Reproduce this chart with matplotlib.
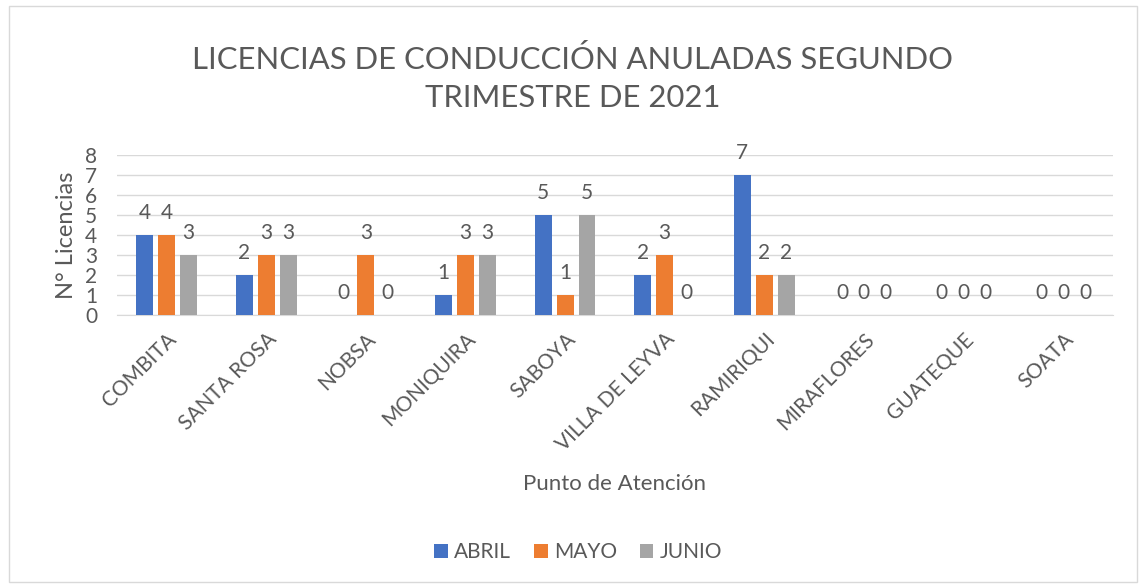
import numpy as np
import matplotlib.pyplot as plt
from matplotlib.patches import Rectangle

categories = ["COMBITA", "SANTA ROSA", "NOBSA", "MONIQUIRA", "SABOYA",
              "VILLA DE LEYVA", "RAMIRIQUI", "MIRAFLORES", "GUATEQUE", "SOATA"]
abril = [4, 2, 0, 1, 5, 2, 7, 0, 0, 0]
mayo = [4, 3, 3, 3, 1, 3, 2, 0, 0, 0]
junio = [3, 3, 0, 3, 5, 0, 2, 0, 0, 0]
series_names = ["ABRIL", "MAYO", "JUNIO"]
colors = ["#4472C4", "#ED7D31", "#A5A5A5"]
text_color = "#595959"

plt.rcParams['font.family'] = ['Lato', 'DejaVu Sans']

fig = plt.figure(figsize=(11.45, 5.88), dpi=100)
ax = fig.add_axes([0.102, 0.464, 0.870, 0.272])

x = np.arange(len(categories))
width = 0.17
step = 0.22
for i, (name, vals) in enumerate(zip(series_names, [abril, mayo, junio])):
    pos = x + (i - 1) * step
    ax.bar(pos, vals, width, color=colors[i], label=name, zorder=3)
    for px, v in zip(pos, vals):
        ax.annotate(str(v), (px, v), xytext=(0, 12), textcoords="offset points",
                    ha="center", va="baseline", fontsize=15, color=text_color)

ax.set_xlim(-0.5, len(categories) - 0.5)
ax.set_ylim(0, 8)
ax.set_yticks(range(0, 9))
ax.yaxis.grid(True, color="#D9D9D9", linewidth=1, zorder=0)
ax.tick_params(axis="both", length=0, labelsize=15, colors=text_color)
ax.tick_params(axis="y", pad=14)
ax.set_xticks(x)
ax.set_xticklabels(categories, rotation=45, ha="right", rotation_mode="anchor")
ax.tick_params(axis="x", pad=10)
for s in ["top", "right", "left"]:
    ax.spines[s].set_visible(False)
ax.spines["bottom"].set_color("#D9D9D9")

ax.set_ylabel("N° Licencias", fontsize=17, color=text_color, labelpad=6)
ax.set_xlabel("Punto de Atención", fontsize=16, color=text_color, labelpad=14)

fig.text(0.5, 0.867, "LICENCIAS DE CONDUCCIÓN ANULADAS SEGUNDO\nTRIMESTRE DE 2021",
         ha="center", va="center", fontsize=22.3, color=text_color, linespacing=1.45)

fig.legend(loc="center", bbox_to_anchor=(0.505, 0.061), ncol=3, frameon=False,
           fontsize=15, labelcolor=text_color, handlelength=0.65, handleheight=0.65,
           handletextpad=0.3, columnspacing=1.1)

fig.patches.append(Rectangle((0.008, 0.01), 0.985, 0.98, transform=fig.transFigure,
                             fill=False, edgecolor="#D9D9D9", linewidth=1))

fig.savefig("out.png", dpi=100)
